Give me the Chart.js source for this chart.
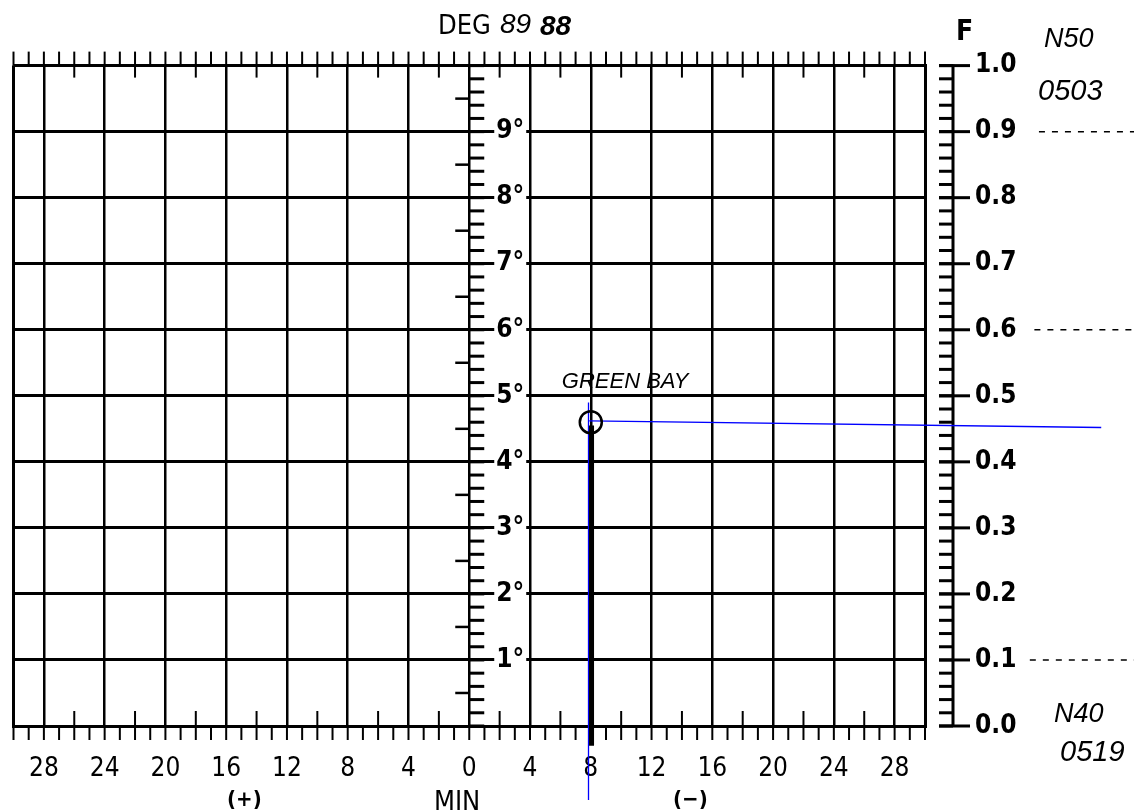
<!DOCTYPE html>
<html><head><meta charset="utf-8">
<script src="https://cdn.jsdelivr.net/npm/chart.js@4.4.1/dist/chart.umd.min.js"></script>
<style>html,body{margin:0;padding:0;background:#fff}#wrap{width:1134px;height:812px;position:relative}</style>
</head><body><div id="wrap"><canvas id="c"></canvas></div>
<script>
// ---- data (minutes: + left, - right; F 0..1) ----
const minuteGridValues = [-30,-28,-24,-20,-16,-12,-8,-4,0,4,8,12,16,20,24,28,30];
const minuteMinorTicks = [];
for (let m = -30; m <= 30; m++) minuteMinorTicks.push(m);
const fTickValues = [0,0.1,0.2,0.3,0.4,0.5,0.6,0.7,0.8,0.9,1.0];
const fMinorTicks = [];
for (let k = 0; k <= 50; k++) fMinorTicks.push(k / 50);
const fHalfTicks = [0.05,0.15,0.25,0.35,0.45,0.55,0.65,0.75,0.85,0.95];
const degreeValues = [0.1,0.2,0.3,0.4,0.5,0.6,0.7,0.8,0.9];
const degreeLabels = ['1°','2°','3°','4°','5°','6°','7°','8°','9°'];
const stationName = 'GREEN BAY';
const stationMin = [-8];
const stationF = [0.46];
const blueVerticalMin = [-7.85, -7.85];
const blueVerticalF = [0.49, -0.112];
const blueHorizontalMin = [-7.9, -41.6];
const blueHorizontalF = [0.462, 0.452];
const thickMin = [-8.05, -8.05];
const thickF = [0.455, -0.03];
const dashLevels = [0.9, 0.6, 0.1];
const dashStartMin = [-37.5, -37.2, -36.9];
const dashEndMin = -43.8;

const pts = (xs, ys) => xs.map((v, i) => ({x: v, y: ys[i]}));
const FONT = "'DejaVu Sans Condensed','DejaVu Sans',sans-serif";
const HAND = '"Liberation Sans",sans-serif';

const datasets = [
  {type:'line', data: pts(thickMin, thickF), borderColor:'#000', borderWidth:5, pointRadius:0, clip:false},
  {type:'scatter', data: pts(stationMin, stationF), pointRadius:11, pointBorderWidth:2.5, borderColor:'#000', backgroundColor:'rgba(0,0,0,0)'},
  {type:'line', data: pts(blueVerticalMin, blueVerticalF), borderColor:'#0000ff', borderWidth:1.3, pointRadius:0, clip:false},
  {type:'line', data: pts(blueHorizontalMin, blueHorizontalF), borderColor:'#0000ff', borderWidth:1.3, pointRadius:0, clip:false}
];
dashLevels.forEach((f, i) => datasets.push({type:'line', data:[{x:dashStartMin[i], y:f},{x:dashEndMin, y:f}], borderColor:'#000', borderWidth:1.5, borderDash:[6,7], pointRadius:0, clip:false}));

function seg(ctx, x1, y1, x2, y2, w) {
  ctx.lineWidth = w; ctx.beginPath(); ctx.moveTo(x1, y1); ctx.lineTo(x2, y2); ctx.stroke();
}

const ladder = {
  id: 'ladder',
  beforeDatasetsDraw(chart) {
    const {ctx, scales: {x, y}, chartArea: a} = chart;
    ctx.save(); ctx.strokeStyle = '#000'; ctx.lineCap = 'butt';
    minuteMinorTicks.forEach(v => {
      const px = x.getPixelForValue(v);
      seg(ctx, px, a.top - 14, px, a.top, 2);
      seg(ctx, px, a.bottom, px, a.bottom + 14, 2);
      if (v % 2 === 0 && v % 4 !== 0) {
        seg(ctx, px, a.top, px, a.top + 12, 2);
        seg(ctx, px, a.bottom - 15, px, a.bottom, 2);
      }
    });
    const cx = x.getPixelForValue(0);
    fMinorTicks.forEach(f => { const py = y.getPixelForValue(f); seg(ctx, cx, py, cx + 15, py, 3); });
    fHalfTicks.forEach(f => { const py = y.getPixelForValue(f); seg(ctx, cx - 14, py, cx, py, 2.5); });
    const rx = a.right + 28;
    seg(ctx, rx, y.getPixelForValue(1) - 1, rx, y.getPixelForValue(0) + 1, 3);
    fMinorTicks.forEach(f => { const py = y.getPixelForValue(f); seg(ctx, rx - 14, py, rx, py, 3); });
    fTickValues.forEach(f => { const py = y.getPixelForValue(f); seg(ctx, rx - 14, py, rx + 17, py, 3); });
    // degree labels
    ctx.font = 'bold 26px ' + FONT; ctx.textBaseline = 'middle'; ctx.textAlign = 'left';
    degreeValues.forEach((f, i) => {
      const py = y.getPixelForValue(f);
      const w = ctx.measureText(degreeLabels[i]).width;
      ctx.fillStyle = '#fff'; ctx.fillRect(cx + 25, py - 4, w + 4, 8);
      ctx.fillStyle = '#000'; ctx.fillText(degreeLabels[i], cx + 27, py);
    });
    ctx.restore();
  },
  afterDraw(chart) {
    const {ctx, scales: {x, y}} = chart;
    ctx.save(); ctx.fillStyle = '#000'; ctx.textBaseline = 'alphabetic'; ctx.textAlign = 'left';
    ctx.font = '27px ' + FONT;
    ctx.fillText('DEG', 438, 34);
    ctx.fillText('MIN', 434, 810);
    ctx.font = 'bold 28px ' + FONT;
    ctx.fillText('F', 956, 40);
    ctx.font = 'bold 22px ' + FONT;
    ctx.fillText('(+)', 227, 806);
    ctx.fillText('(\u2212)', 673, 806);
    ctx.font = 'italic 28px ' + HAND;
    ctx.fillText('89', 500, 33);
    ctx.font = 'italic bold 28px ' + HAND;
    ctx.fillText('88', 540, 35);
    ctx.font = 'italic 27px ' + HAND;
    ctx.fillText('N50', 1044, 47);
    ctx.fillText('N40', 1054, 722);
    ctx.font = 'italic 29px ' + HAND;
    ctx.fillText('0503', 1038, 100);
    ctx.fillText('0519', 1060, 761);
    ctx.font = 'italic 22px ' + HAND;
    ctx.fillText(stationName, x.getPixelForValue(stationMin[0]) - 29, y.getPixelForValue(stationF[0]) - 34);
    ctx.restore();
  }
};

new Chart(document.getElementById('c'), {
  type: 'scatter',
  data: {datasets},
  options: {
    responsive: true, maintainAspectRatio: false, animation: false,
    layout: {padding: {left: 13, top: 65, right: 0, bottom: 0}},
    plugins: {legend: {display: false}, tooltip: {enabled: false}},
    scales: {
      x: {
        type: 'linear', min: -30, max: 30, reverse: true, position: 'bottom',
        afterBuildTicks: s => { s.ticks = minuteGridValues.map(v => ({value: v})); },
        afterFit: s => { s.height = 86; },
        grid: {color: '#000', lineWidth: c => (Math.abs(c.tick ? c.tick.value : 0) === 30 ? 3 : 2.5), drawTicks: false},
        border: {display: true, color: '#000', width: 3},
        ticks: {color: '#000', font: {family: FONT, size: 26}, padding: 28, autoSkip: false, maxRotation: 0,
          callback: v => (Math.abs(v) === 30 ? '' : String(Math.abs(v)))}
      },
      y: {
        type: 'linear', min: 0, max: 1, position: 'right',
        afterBuildTicks: s => { s.ticks = fTickValues.map(v => ({value: v})); },
        afterFit: s => { s.width = 209; },
        grid: {color: '#000', lineWidth: 3, drawTicks: false},
        border: {display: true, color: '#000', width: 3},
        ticks: {color: '#000', font: {family: FONT, size: 26, weight: 'bold'}, padding: 50, callback: v => Number(v).toFixed(1)}
      }
    }
  },
  plugins: [ladder]
});
</script>
</body></html>
